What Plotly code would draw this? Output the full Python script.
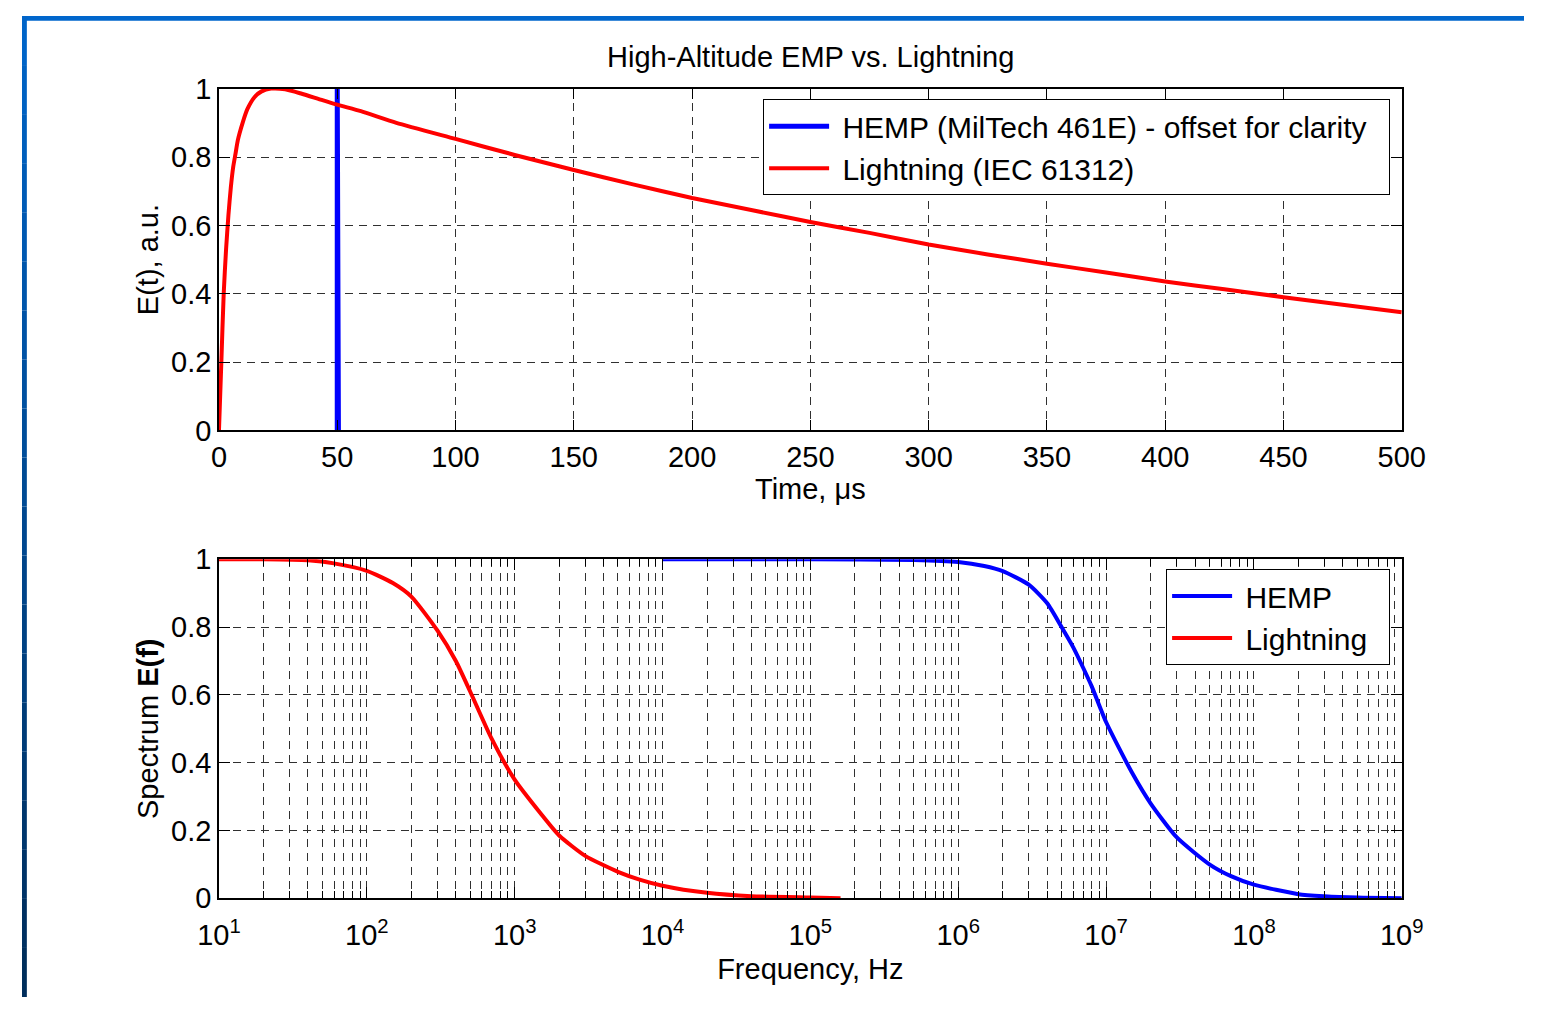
import plotly.graph_objects as go
import numpy as np

# figure size (the page body keeps an 8 px margin around it)
OFF = 8
W, H = 1564 - 2 * OFF, 1029 - 2 * OFF

# ---- data: top panel (time domain) ----
light_t = [0, 1, 2, 3, 4, 5, 6, 7, 8, 10, 12, 15, 18, 22, 28, 35, 42, 50, 60, 75,
           100, 125, 150, 175, 200, 225, 250, 275, 300, 325, 350, 375, 400, 425, 450, 475, 500]
light_e = [0, 0.2, 0.4, 0.53, 0.63, 0.71, 0.77, 0.81, 0.85, 0.90, 0.94, 0.975, 0.992, 1.0, 0.998,
           0.985, 0.97, 0.953, 0.934, 0.9, 0.853, 0.806, 0.762, 0.72, 0.68, 0.645, 0.61, 0.578,
           0.544, 0.515, 0.488, 0.462, 0.436, 0.413, 0.39, 0.368, 0.346]
hemp_t = [50, 50.0025, 50.005, 50.02, 50.05, 50.1, 50.2, 50.5]
hemp_e = [0, 1.0, 0.97, 0.6, 0.25, 0.05, 0.01, 0]

# ---- data: bottom panel (spectra) ----
light_f = [10, 20, 40, 60, 100, 150, 200, 300, 400, 500, 700, 1000, 1500, 2000, 3000,
           5000, 7000, 10000, 20000, 40000, 100000, 160000]
light_s = [1.0, 1.0, 0.997, 0.988, 0.966, 0.93, 0.89, 0.79, 0.70, 0.61, 0.47, 0.35, 0.25,
           0.185, 0.125, 0.078, 0.055, 0.037, 0.016, 0.006, 0.002, 0.0]
hemp_f = [1e4, 1e5, 5e5, 1e6, 1.5e6, 2e6, 3e6, 4e6, 5e6, 6e6, 7e6, 8e6, 1e7, 1.5e7, 2e7,
          3e7, 5e7, 7e7, 1e8, 2e8, 3e8, 5e8, 1e9]
hemp_s = [1.0, 1.0, 0.998, 0.992, 0.98, 0.965, 0.925, 0.87, 0.80, 0.74, 0.68, 0.625, 0.52,
          0.37, 0.28, 0.18, 0.10, 0.065, 0.04, 0.012, 0.006, 0.002, 0.0]

time_ticks = [0, 50, 100, 150, 200, 250, 300, 350, 400, 450, 500]
y_ticks = [0, 0.2, 0.4, 0.6, 0.8, 1]
freq_major = [1e1, 1e2, 1e3, 1e4, 1e5, 1e6, 1e7, 1e8, 1e9]
freq_major_text = ["10<sup>%d</sup>" % k for k in range(1, 10)]
freq_minor = [m * 10 ** k for k in range(1, 9) for m in range(2, 10)]

NB = "\u00a0"
RED = "#FF0000"
BLUE = "#0000FF"
FONT = "Liberation Sans, Arial, Helvetica, sans-serif"
GRID = "#303030"
DASH = "8px,6px"


def fx(X):  # window pixel -> paper x
    return (X - OFF) / W


def fy(Y):  # window pixel -> paper y
    return 1 - (Y - OFF) / H


fig = go.Figure()
fig.add_trace(go.Scatter(x=hemp_t, y=hemp_e, mode="lines",
                         name=NB + "HEMP (MilTech 461E) - offset for clarity" + NB * 2,
                         line=dict(color=BLUE, width=5), xaxis="x", yaxis="y", legend="legend"))
fig.add_trace(go.Scatter(x=light_t, y=light_e, mode="lines", name=NB + "Lightning (IEC 61312)",
                         line=dict(color=RED, width=4, shape="spline", smoothing=0.6),
                         xaxis="x", yaxis="y", legend="legend"))
fig.add_trace(go.Scatter(x=hemp_f, y=hemp_s, mode="lines", name=NB + "HEMP",
                         line=dict(color=BLUE, width=4, shape="spline", smoothing=0.6),
                         xaxis="x2", yaxis="y2", legend="legend2"))
fig.add_trace(go.Scatter(x=light_f, y=light_s, mode="lines", name=NB + "Lightning" + NB * 2,
                         line=dict(color=RED, width=4, shape="spline", smoothing=0.6),
                         xaxis="x2", yaxis="y2", legend="legend2"))

xd = [fx(211), fx(1430)]
yd_top = [fy(436), fy(83)]
yd_bot = [fy(919), fy(569)]

axis_common = dict(showline=True, linecolor="black", linewidth=1.5, mirror="ticks",
                   ticks="inside", tickcolor="black", ticklen=11, tickwidth=1,
                   showgrid=True, gridcolor=GRID, gridwidth=1, griddash=DASH,
                   zeroline=False, tickfont=dict(family=FONT, size=29, color="black"))

legend_common = dict(xanchor="right", yanchor="top", bgcolor="white", bordercolor="black",
                     borderwidth=1, font=dict(family=FONT, size=30, color="black"),
                     tracegroupgap=0, itemwidth=60)

fig.update_layout(
    width=W, height=H,
    margin=dict(l=0, r=0, t=0, b=0),
    paper_bgcolor="white", plot_bgcolor="white",
    font=dict(family=FONT, color="black", size=28),
    xaxis=dict(domain=xd, anchor="y", range=[0, 500], tickvals=time_ticks,
               title=dict(text="Time, μs", font=dict(family=FONT, size=29), standoff=5),
               **axis_common),
    yaxis=dict(domain=yd_top, anchor="x", range=[0, 1], tickvals=y_ticks,
               title=dict(text="E(t), a.u.", font=dict(family=FONT, size=29), standoff=4),
               **axis_common),
    xaxis2=dict(domain=xd, anchor="y2", type="log", range=[1, 9], tickvals=freq_major,
                ticktext=freq_major_text, ticklabelstandoff=10,
                minor=dict(tickvals=freq_minor, ticks="inside", ticklen=7, tickcolor="black",
                           showgrid=True, gridcolor=GRID, gridwidth=1, griddash=DASH),
                title=dict(text="Frequency, Hz", font=dict(family=FONT, size=29), standoff=9),
                **axis_common),
    yaxis2=dict(domain=yd_bot, anchor="x2", range=[0, 1], tickvals=y_ticks,
                title=dict(text="Spectrum <b>E(f)</b>", font=dict(family=FONT, size=29), standoff=4),
                **axis_common),
    legend=dict(x=fx(1418), y=fy(94), **legend_common),
    legend2=dict(x=fx(1418), y=fy(579), **legend_common),
    showlegend=True,
    annotations=[dict(text="High-Altitude EMP vs. Lightning", xref="paper", yref="paper",
                      x=fx((211 + 1430) / 2), y=fy(50), xanchor="center", yanchor="middle",
                      showarrow=False, font=dict(family=FONT, size=29, color="black"))],
)

# slide frame: blue top band and left strip with vertical gradient
shapes = [dict(type="rect", xref="paper", yref="paper", x0=0, x1=1, y0=1 - 5 / H, y1=1,
               fillcolor="#0066CC", line=dict(width=0), layer="above")]
n = 20
c0 = np.array([0x00, 0x64, 0xC8])
c1 = np.array([0x00, 0x2E, 0x5C])
for i in range(n):
    f = i / (n - 1)
    c = (c0 * (1 - f) + c1 * f).astype(int)
    shapes.append(dict(type="rect", xref="paper", yref="paper", x0=0, x1=5 / W,
                       y0=1 - (i + 1) / n, y1=1 - i / n,
                       fillcolor="rgb(%d,%d,%d)" % tuple(c), line=dict(width=0), layer="above"))
fig.update_layout(shapes=shapes)

fig.write_html("out.html")
